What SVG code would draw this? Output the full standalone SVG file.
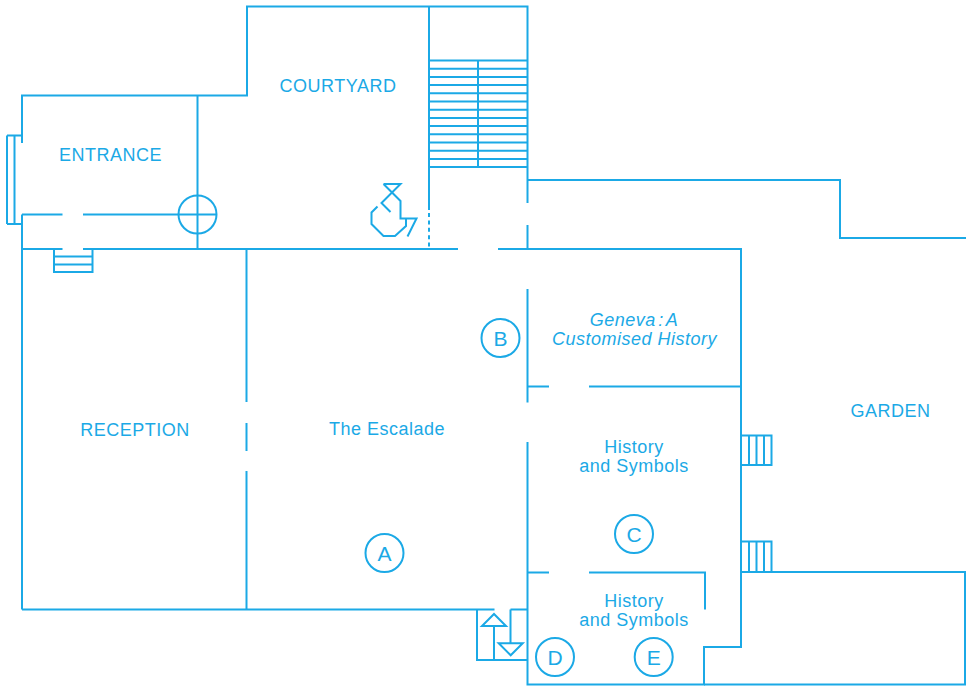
<svg xmlns="http://www.w3.org/2000/svg" width="971" height="686" viewBox="0 0 971 686">
<style>
.w{fill:none;stroke:#1ba9e6;stroke-width:2}
.t{fill:#1ba9e6;font-family:"Liberation Sans",Arial,sans-serif;font-size:18px;text-anchor:middle;letter-spacing:.5px}
.l{fill:#1ba9e6;font-family:"Liberation Sans",Arial,sans-serif;font-size:21px;text-anchor:middle}
</style>
<rect width="971" height="686" fill="#fff"/>
<g id="connectors" class="w">
<path d="M22 143V95.500H247V6.500H527.500V203M527.500 225V249M429 6.500V210"/>
<path d="M429 213V249" stroke-dasharray="4 3.400"/>
<path d="M197.500 95.500V249M22 214.500H62.500M83 214.500H178M22 214.500V609.500M22 249H62.500M83 249H458M498 249H741V647H704V684.500H527.500V442M527.500 402.500V289"/>
<path d="M7 135.500H22M7 224H22M7 135.500V224M14.500 135.500V224"/>
<path d="M54 249V272H92.500V249M54 256.500H92.500M54 264.500H92.500"/>
<path d="M527.500 180H840V238H966"/>
<path d="M246.500 249V402M246.500 423V451M246.500 471V609.500M22 609.500H494.500M510.500 609.500H527.500M477 609.500V660H527.500"/>
<path d="M527.500 386.500H549M589 386.500H741M527.500 572.500H549M589 572.500H705V609.500"/>
<path d="M741 572H965V684.500H704"/>
<path d="M494 660V626M482 626H506L494 614ZM510.500 609.500V643M498.700 643.300H522.700L510.700 655.300Z"/>
<path d="M741 435.500H771.500V465H741M749 435.500V465M756.500 435.500V465M764 435.500V465"/>
<path d="M741 541.500H771.500V572M749 541.500V572M756.500 541.500V572M764 541.500V572"/>
<path d="M429 60.500H527.500M429 68.700H527.500M429 76.900H527.500M429 85.100H527.500M429 93.300H527.500M429 101.500H527.500M429 109.700H527.500M429 117.900H527.500M429 126.100H527.500M429 134.300H527.500M429 142.500H527.500M429 150.700H527.500M429 167H527.500M429 158.900H527.500M478 60.500V167"/>
<path d="M383.500 184H400.500L381.500 203L390.500 212M383.500 184L400.500 201V218.500H416.500L407.500 236.500M377.500 206.500L371.500 212.500V224L383.500 236H395L406 226V218.500"/>
<path d="M178 214.500H216.500"/>
</g>
<g id="entrance-door"><circle class="w" cx="197.500" cy="214.500" r="19"/></g>
<g id="courtyard"><text class="t" x="338" y="92">COURTYARD</text></g>
<g id="entrance"><text class="t" x="110.500" y="161">ENTRANCE</text></g>
<g id="reception"><text class="t" x="135" y="436">RECEPTION</text></g>
<g id="escalade"><text class="t" x="387" y="435">The Escalade</text></g>
<g id="garden"><text class="t" x="890.500" y="417">GARDEN</text></g>
<g id="geneva"><text class="t" font-style="italic" word-spacing="-3" x="634" y="325.500">Geneva : A</text><text class="t" font-style="italic" x="634.500" y="344.500">Customised History</text></g>
<g id="history1"><text class="t" x="634" y="453">History</text><text class="t" x="634" y="472">and Symbols</text></g>
<g id="history2"><text class="t" x="634" y="607">History</text><text class="t" x="634" y="626">and Symbols</text></g>
<g id="marker-a"><circle class="w" cx="384.500" cy="553" r="19"/><text class="l" x="384.500" y="560.500">A</text></g>
<g id="marker-b"><circle class="w" cx="500.500" cy="338" r="19"/><text class="l" x="500.500" y="345.500">B</text></g>
<g id="marker-c"><circle class="w" cx="634" cy="534" r="19"/><text class="l" x="634" y="541.500">C</text></g>
<g id="marker-d"><circle class="w" cx="555" cy="657" r="19"/><text class="l" x="555" y="664.500">D</text></g>
<g id="marker-e"><circle class="w" cx="653.700" cy="657" r="19"/><text class="l" x="653.700" y="664.500">E</text></g>
</svg>
